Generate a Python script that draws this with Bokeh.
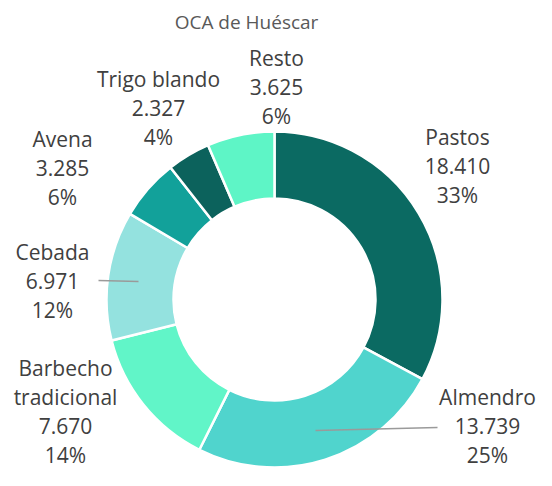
import numpy as np
from bokeh.plotting import figure
from bokeh.models import Range1d, ColumnDataSource
from bokeh.core.properties import value
from bokeh.embed import file_html
from bokeh.resources import INLINE

title = "OCA de Huéscar"
categories = ["Pastos", "Almendro", "Barbecho\ntradicional", "Cebada", "Avena", "Trigo blando", "Resto"]
values = [18410, 13739, 7670, 6971, 3285, 2327, 3625]
value_labels = ["18.410", "13.739", "7.670", "6.971", "3.285", "2.327", "3.625"]
colors = ["#0B6A62", "#50D4CD", "#61F5C8", "#94E2DF", "#12A19A", "#0C625C", "#5EF5C6"]

# layout: positions given in reference-picture pixels, shifted up by DY
W, H = 536, 470
DY = 6
def Y(sy):
    return H - (sy - DY)

cx, cy = 274, Y(305)
r_in, r_out = 101, 168
label_pos = [(457, 142), (487, 402), (65, 373), (52, 257), (62, 144), (158, 84), (276, 63)]
line_step = 29
FONT = "Open Sans"
FS = "21px"

vals = np.array(values, dtype=float)
frac = vals / vals.sum()
cum_end = np.cumsum(frac)
cum_start = cum_end - frac
start_angle = np.pi / 2 - 2 * np.pi * cum_end
end_angle = np.pi / 2 - 2 * np.pi * cum_start
pcts = [f"{round(f * 100):d}%" for f in frac]

p = figure(width=W, height=H, output_backend="svg", toolbar_location=None,
           x_range=Range1d(0, W), y_range=Range1d(0, H),
           min_border=0)
p.axis.visible = False
p.grid.visible = False
p.outline_line_color = None
p.background_fill_color = "white"
p.border_fill_color = "white"

src = ColumnDataSource(dict(start=start_angle, end=end_angle, color=colors))
p.annular_wedge(x=cx, y=cy, inner_radius=r_in, outer_radius=r_out,
                start_angle="start", end_angle="end", direction="anticlock",
                fill_color="color", line_color="white", line_width=2.5, source=src)

# leader lines
p.line(x=[98, 138], y=[Y(286), Y(287)], line_color="#9a9a9a", line_width=1.3)
p.line(x=[315, 437], y=[Y(436), Y(433)], line_color="#9a9a9a", line_width=1.3)

xs, ys, txt = [], [], []
for cat, vl, pc, (lx, ly) in zip(categories, value_labels, pcts, label_pos):
    lines = cat.split("\n") + [vl, pc]
    for k, t in enumerate(lines):
        xs.append(lx)
        ys.append(Y(ly + k * line_step))
        txt.append(t)
p.text(x=xs, y=ys, text=txt, text_align="center", text_baseline="middle",
       text_font=value(FONT), text_font_size=FS, text_color="#404040")

p.text(x=[246], y=[Y(27)], text=[title], text_align="center", text_baseline="middle",
       text_font=value(FONT), text_font_size="19px", text_color="#595959")

open("out.html", "w").write(file_html(p, INLINE))
